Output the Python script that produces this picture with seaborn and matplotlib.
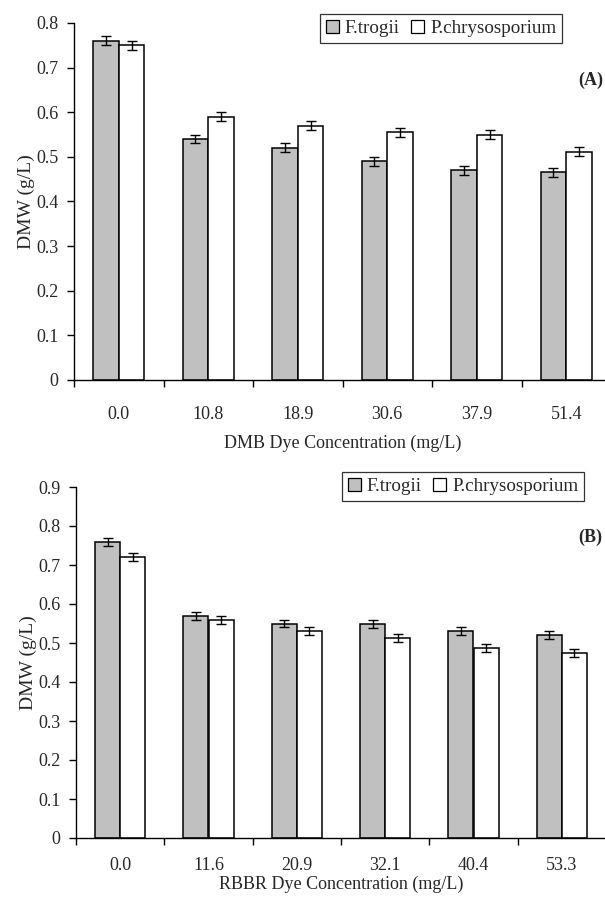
import matplotlib
matplotlib.use("Agg")
import matplotlib.pyplot as plt
import matplotlib.patches as mpatches
import matplotlib.transforms as mtransforms
import numpy as np
import pandas as pd
import seaborn as sns

# ---- data ----
species = ["F.trogii", "P.chrysosporium"]

conc_A = ["0.0", "10.8", "18.9", "30.6", "37.9", "51.4"]
ftrogii_A = [0.76, 0.54, 0.52, 0.49, 0.47, 0.465]
pchryso_A = [0.75, 0.59, 0.57, 0.555, 0.55, 0.512]
err_ftrogii_A = [0.01, 0.01, 0.01, 0.01, 0.01, 0.01]
err_pchryso_A = [0.01, 0.01, 0.01, 0.01, 0.01, 0.01]

conc_B = ["0.0", "11.6", "20.9", "32.1", "40.4", "53.3"]
ftrogii_B = [0.76, 0.57, 0.55, 0.548, 0.53, 0.52]
pchryso_B = [0.72, 0.56, 0.53, 0.513, 0.487, 0.475]
err_ftrogii_B = [0.01, 0.01, 0.01, 0.01, 0.01, 0.01]
err_pchryso_B = [0.01, 0.01, 0.01, 0.01, 0.01, 0.01]

yticks_A = [0, 0.1, 0.2, 0.3, 0.4, 0.5, 0.6, 0.7, 0.8]
ytick_labels_A = ["0", "0.1", "0.2", "0.3", "0.4", "0.5", "0.6", "0.7", "0.8"]
yticks_B = [0, 0.1, 0.2, 0.3, 0.4, 0.5, 0.6, 0.7, 0.8, 0.9]
ytick_labels_B = ["0", "0.1", "0.2", "0.3", "0.4", "0.5", "0.6", "0.7", "0.8", "0.9"]

xlabel_A = "DMB Dye Concentration (mg/L)"
xlabel_B = "RBBR Dye Concentration (mg/L)"
ylabel = "DMW (g/L)"

colors = {"F.trogii": "#c0c0c0", "P.chrysosporium": "#ffffff"}

sns.set_theme(style="white")
plt.rcParams["font.family"] = ["Liberation Serif", "DejaVu Serif"]

W, H = 605, 902
fig = plt.figure(figsize=(W / 100, H / 100), dpi=100)

def px_axes(left, right, top, bottom):
    return [left / W, 1 - bottom / H, (right - left) / W, (bottom - top) / H]

ax_A = fig.add_axes(px_axes(74, 611, 23, 380))
ax_B = fig.add_axes(px_axes(76, 606, 487, 838))

FS = 13


def draw(ax, conc, f_vals, p_vals, f_err, p_err, ymax, yticks, yticklabels,
         xlabel, tag, tag_y, legend_px, xtickpad, xlabelpad):
    df = pd.DataFrame({
        "conc": conc * 2,
        "species": [species[0]] * len(conc) + [species[1]] * len(conc),
        "dmw": list(f_vals) + list(p_vals),
    })
    sns.barplot(data=df, x="conc", y="dmw", hue="species", order=conc,
                hue_order=species, palette=colors, width=0.57, errorbar=None,
                edgecolor="black", linewidth=1.1, ax=ax, legend=False,
                saturation=1)
    errs = [f_err, p_err]
    for cont, e in zip(ax.containers, errs):
        xs = [b.get_x() + b.get_width() / 2 for b in cont]
        hs = [b.get_height() for b in cont]
        ax.errorbar(xs, hs, yerr=e, fmt="none", ecolor="black",
                    elinewidth=1.0, capsize=3.3, capthick=1.0, zorder=5)
    n = len(conc)
    ax.set_xlim(-0.5, n - 0.5)
    ax.set_ylim(0, ymax)
    ax.set_yticks(yticks)
    ax.set_yticklabels(yticklabels)
    ax.set_xticks(range(n))
    ax.set_xticklabels(conc)
    ax.set_xticks(np.arange(-0.5, n - 0.4, 1.0), minor=True)
    ax.tick_params(axis="x", which="major", length=0, pad=xtickpad,
                   labelsize=FS)
    ax.tick_params(axis="x", which="minor", length=5, width=1.0,
                   direction="out", color="black", bottom=True)
    ax.tick_params(axis="y", length=5, width=1.0, direction="out",
                   color="black", left=True, pad=6, labelsize=FS)
    for s in ["top", "right"]:
        ax.spines[s].set_visible(False)
    for s in ["left", "bottom"]:
        ax.spines[s].set_color("black")
        ax.spines[s].set_linewidth(1.0)
    ax.set_xlabel(xlabel, fontsize=FS, labelpad=xlabelpad)
    ax.set_ylabel(ylabel, fontsize=14, labelpad=1)
    ax.grid(False)

    handles = [mpatches.Patch(facecolor=colors[s], edgecolor="black",
                              linewidth=0.9, label=s) for s in species]
    lx0, ly0 = legend_px
    leg = ax.legend(handles=handles, ncol=2, loc="upper left",
                    bbox_to_anchor=(lx0 / W, 1 - ly0 / H),
                    bbox_transform=fig.transFigure, frameon=True,
                    fancybox=False, edgecolor="black", fontsize=13.7,
                    handlelength=0.7, handleheight=0.7, handletextpad=0.3,
                    columnspacing=0.6, borderpad=0.3, borderaxespad=0)
    leg.get_frame().set_linewidth(0.9)
    ax.text(578 / W, tag_y, tag,
            transform=mtransforms.blended_transform_factory(
                fig.transFigure, ax.transData),
            fontsize=FS, fontweight="bold", ha="left", va="center")


draw(ax_A, conc_A, ftrogii_A, pchryso_A, err_ftrogii_A, err_pchryso_A,
     0.8, yticks_A, ytick_labels_A, xlabel_A, "(A)", 0.672, (320, 14), 19, 8)
draw(ax_B, conc_B, ftrogii_B, pchryso_B, err_ftrogii_B, err_pchryso_B,
     0.9, yticks_B, ytick_labels_B, xlabel_B, "(B)", 0.772, (342, 472), 14, 1)

fig.savefig("out.png", dpi=100)
